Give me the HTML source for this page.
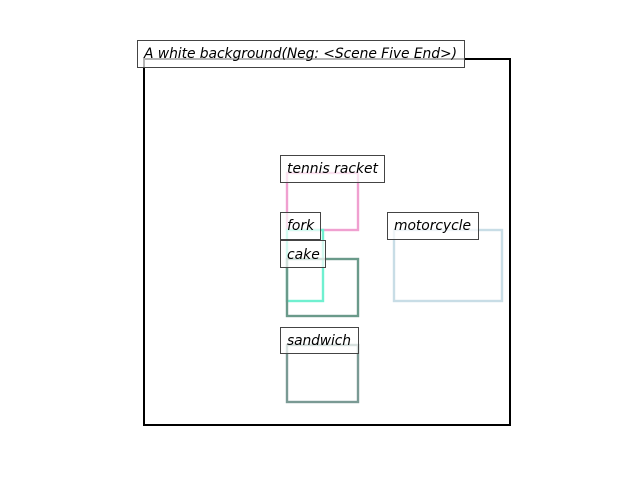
<!DOCTYPE html>
<html><head><style>html,body{margin:0;padding:0;background:#fff;width:640px;height:480px;overflow:hidden}</style></head>
<body>
<svg width="640" height="480" xmlns="http://www.w3.org/2000/svg" font-family="DejaVu Sans, sans-serif" font-style="italic" font-size="13.9">
<rect x="144" y="59" width="366" height="366" fill="none" stroke="#000" stroke-width="2"/>
<rect x="287" y="173" width="71" height="57" fill="none" stroke="#f0a0d0" stroke-width="2.4"/>
<rect x="287" y="230" width="36" height="71" fill="none" stroke="#70f0d0" stroke-width="2.4"/>
<rect x="287" y="259" width="71" height="57" fill="none" stroke="#6a9a8a" stroke-width="2.4"/>
<rect x="394" y="230" width="108" height="71" fill="none" stroke="#c8dde6" stroke-width="2.4"/>
<rect x="287" y="345" width="71" height="57" fill="none" stroke="#7a9a94" stroke-width="2.4"/>
<g fill="#fff" fill-opacity="0.7" stroke="#444" stroke-width="1">
<rect x="137.5" y="40.5" width="327" height="27"/>
<rect x="280.5" y="155.5" width="104" height="27"/>
<rect x="280.5" y="212.5" width="40" height="27"/>
<rect x="280.5" y="240.5" width="45" height="27"/>
<rect x="387.5" y="212.5" width="91" height="27"/>
<rect x="280.5" y="327.5" width="78" height="26"/>
</g>
<g fill="#000">
<text x="144" y="58" textLength="313">A white background(Neg: &lt;Scene Five End&gt;)</text>
<text x="287" y="173" textLength="91">tennis racket</text>
<text x="287" y="230">fork</text>
<text x="287" y="259">cake</text>
<text x="394" y="230" textLength="77">motorcycle</text>
<text x="287" y="345" textLength="64">sandwich</text>
</g>
</svg>
</body></html>
